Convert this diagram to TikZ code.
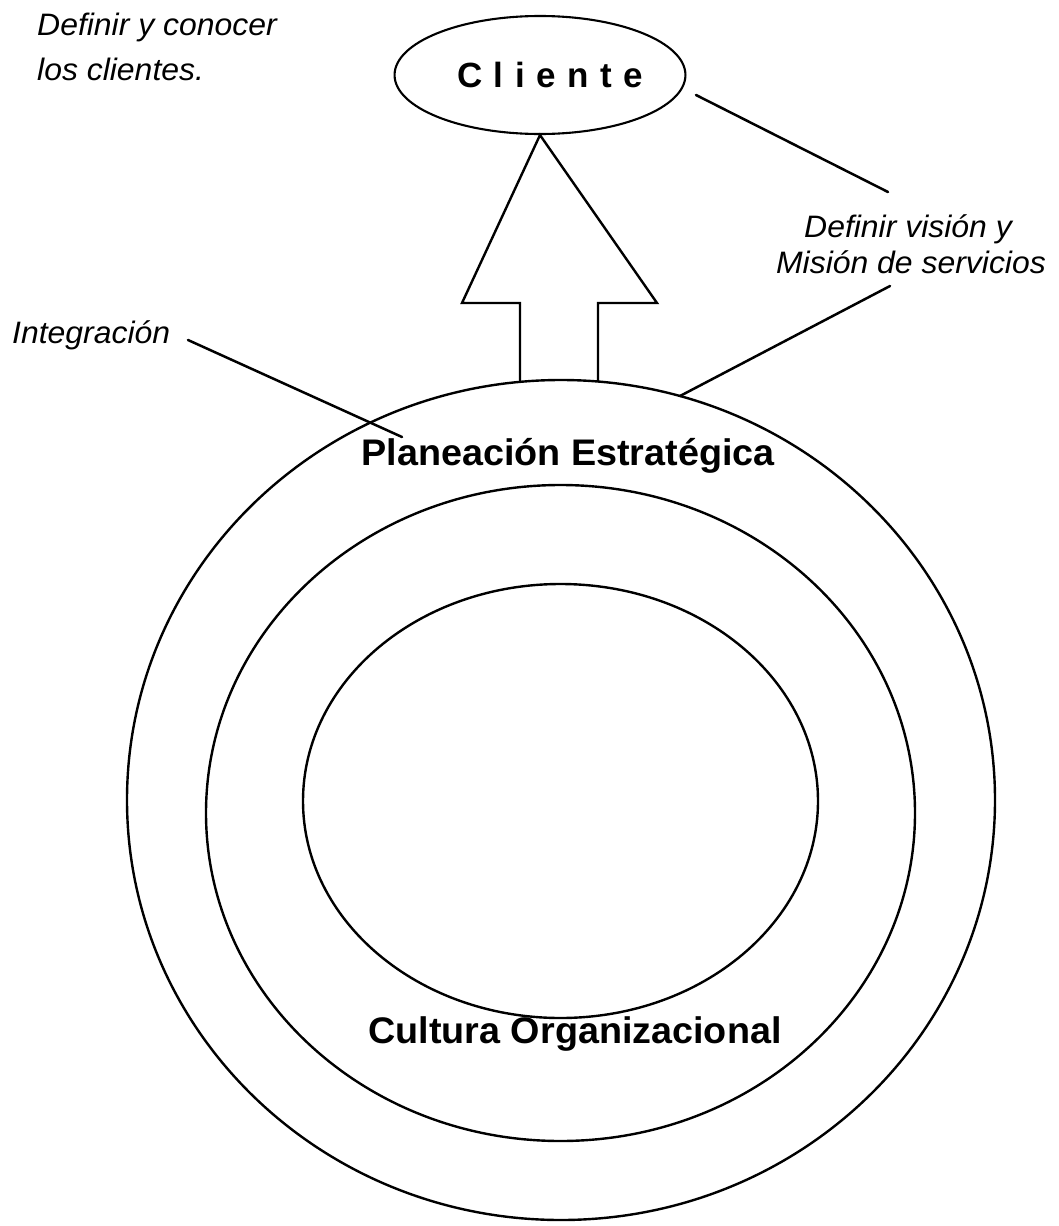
\documentclass[tikz,border=0pt]{standalone}
\usepackage{fontspec}
\setmainfont{Liberation Sans}
\usetikzlibrary{shapes.geometric}
\begin{document}
\begin{tikzpicture}[x=1pt,y=-1pt,
  ln/.style={line width=2.5pt, line cap=round},
  ring/.style={draw, ellipse, line width=2.4pt, inner sep=0pt},
  itlab/.style={inner sep=0pt, font=\fontsize{31}{36}\selectfont\itshape},
  boldlab/.style={inner sep=0pt, font=\fontsize{37}{40}\selectfont\bfseries},
]
\useasboundingbox (0,0) rectangle (1058,1226);

% concentric rings
\node[ring, minimum width=868pt, minimum height=840pt] (outer) at (561,800) {};
\node[ring, minimum width=709pt, minimum height=656pt] (middle) at (560.5,813) {};
\node[ring, minimum width=515pt, minimum height=434pt] (inner) at (560.5,801) {};

% client ellipse
\node[ring, line width=2.1pt, minimum width=276pt, minimum height=118pt,
      font=\fontsize{35}{38}\selectfont\bfseries] (cli) at (540,75)
  {\hspace*{20pt}C\hspace{11.5pt}l\hspace{11.5pt}i\hspace{11.5pt}e\hspace{11.5pt}n\hspace{11.5pt}t\hspace{11.5pt}e};

% big arrow
\coordinate (shL) at (520,381);
\coordinate (shR) at (598,381);
\draw[line width=2.4pt, line join=miter] (shL) -- (520,303) -- (462,303) -- (cli.south)
   -- (657,303) -- (598,303) -- (shR);

% texts
\node[itlab, anchor=base west] (def1) at (37,35) {\scalebox{1.03}[1]{Definir y conocer}};
\node[itlab, anchor=base west] (def2) at (37,80) {\scalebox{1.03}[1]{los clientes.}};
\node[itlab, anchor=base west] (integ) at (12,343) {\scalebox{1.03}[1]{Integración}};
\node[itlab, anchor=base] (vis1) at (908,237) {\scalebox{1.03}[1]{Definir visión y}};
\node[itlab, anchor=base] (vis2) at (911,273) {\scalebox{1.03}[1]{Misión de servicios}};

\node[boldlab, anchor=base] (plan) at (568,465) {\scalebox{1.02}[1]{Planeación Estratégica}};
\node[boldlab, anchor=base] (cult) at (575,1043) {\scalebox{1.02}[1]{Cultura Organizacional}};

% connector lines
\coordinate (a1) at (188,340);
\coordinate (a2) at (402,437);
\draw[ln] (a1) -- (a2);
\coordinate (b1) at (696,95);
\coordinate (b2) at (888,192);
\draw[ln] (b1) -- (b2);
\coordinate (c1) at (890,286);
\coordinate (c2) at (680,396);
\draw[ln] (c1) -- (c2);
\end{tikzpicture}
\end{document}
